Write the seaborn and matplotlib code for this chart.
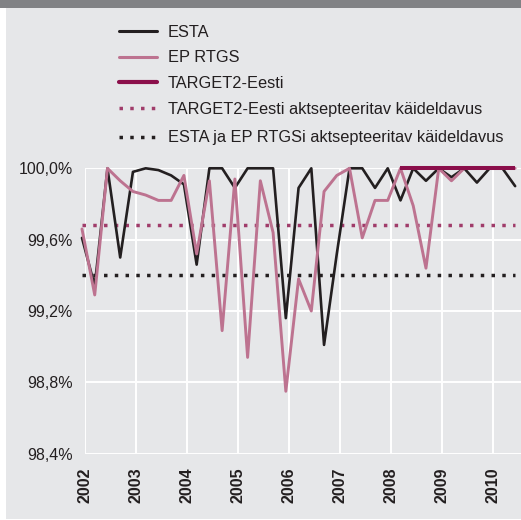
import numpy as np
import pandas as pd
import matplotlib
matplotlib.use("Agg")
import matplotlib.pyplot as plt
import seaborn as sns
from matplotlib.patches import Rectangle
from matplotlib.lines import Line2D

# ---------------- data ----------------
years = [2002, 2003, 2004, 2005, 2006, 2007, 2008, 2009, 2010]
quarter_index = list(range(35))  # quarterly observations 2002 .. 2010
esta = [99.61, 99.34, 100.0, 99.50, 99.98, 100.0, 99.99, 99.96, 99.91,
        99.46, 100.0, 100.0, 99.89, 100.0, 100.0, 100.0, 99.16, 99.89,
        100.0, 99.01, 99.52, 100.0, 100.0, 99.89, 100.0, 99.82, 100.0,
        99.93, 100.0, 99.95, 100.0, 99.92, 100.0, 100.0, 99.90]
ep_rtgs = [99.66, 99.29, 100.0, 99.93, 99.87, 99.85, 99.82, 99.82, 99.96,
           99.52, 99.93, 99.09, 99.94, 98.94, 99.93, 99.64, 98.75, 99.38,
           99.20, 99.87, 99.96, 100.0, 99.61, 99.82, 99.82, 100.0, 99.79,
           99.44, 100.0, 99.93, 100.0, 100.0, 100.0, 100.0, 100.0]
target2 = [np.nan] * 25 + [100.0] * 10
t2_required = 99.68
esta_required = 99.40
yticks = [98.4, 98.8, 99.2, 99.6, 100.0]
ytick_labels = ["98,4%", "98,8%", "99,2%", "99,6%", "100,0%"]
labels = ["ESTA", "EP RTGS", "TARGET2-Eesti",
          "TARGET2-Eesti aktsepteeritav käideldavus",
          "ESTA ja EP RTGSi aktsepteeritav käideldavus"]

df = pd.DataFrame({"q": quarter_index, "esta": esta, "ep": ep_rtgs,
                   "t2": target2,
                   "t2req": [t2_required] * len(quarter_index),
                   "esreq": [esta_required] * len(quarter_index)})

# ---------------- style ----------------
BG = "#e6e7e9"
BAND = "#818285"
C_ESTA = "#231f20"
C_EP = "#bd7390"
C_T2 = "#8b0f4b"
C_T2REQ = "#a03c6a"
C_ESREQ = "#231f20"

sns.set_theme(style="white")
plt.rcParams['font.family'] = ['Liberation Sans', 'DejaVu Sans']

W, H = 521, 520
fig = plt.figure(figsize=(W / 100, H / 100), dpi=100)
fig.patch.set_facecolor("white")
fig.patches.append(Rectangle((6 / W, 1 / H), 1, 1, transform=fig.transFigure,
                             facecolor=BG, edgecolor="none", zorder=-10))
fig.patches.append(Rectangle((0, 1 - 8 / H), 1, 8 / H, transform=fig.transFigure,
                             facecolor=BAND, edgecolor="none", zorder=-9))

ax_l, ax_r, ax_t, ax_b = 85.3, 521, 168.3, 453.7
ax = fig.add_axes([ax_l / W, 1 - ax_b / H, (ax_r - ax_l) / W, (ax_b - ax_t) / H])
ax.set_facecolor(BG)

dot = dict(dashes=(1, 2.1), dash_capstyle="butt")
sns.lineplot(data=df, x="q", y="t2req", ax=ax, color=C_T2REQ, lw=2.5,
             clip_on=False, zorder=3, **dot)
sns.lineplot(data=df, x="q", y="esreq", ax=ax, color=C_ESREQ, lw=2.5,
             clip_on=False, zorder=3, **dot)
sns.lineplot(data=df, x="q", y="esta", ax=ax, color=C_ESTA, lw=1.9,
             clip_on=False, zorder=4)
sns.lineplot(data=df, x="q", y="ep", ax=ax, color=C_EP, lw=2.1,
             clip_on=False, zorder=5)
sns.lineplot(data=df, x="q", y="t2", ax=ax, color=C_T2, lw=2.9,
             clip_on=False, zorder=6, solid_capstyle="butt")

year_pos = [0.26 + 4 * k for k in range(len(years))]
ax.set_xlim(0.26, 0.26 + (ax_r - ax_l) / 12.74)
ax.set_ylim(98.4, 100.0)
ax.set_xticks(year_pos)
ax.set_xticklabels([str(y) for y in years], rotation=90, fontweight="bold",
                   fontsize=11.5, color="#231f20")
ax.set_yticks(yticks)
ax.set_yticklabels(ytick_labels, fontsize=11.5, color="#231f20")
ax.tick_params(axis="x", length=0, pad=10)
ax.tick_params(axis="y", length=0, pad=9)
ax.grid(True, color="white", lw=1.4)
ax.set_axisbelow(True)
for s in ax.spines.values():
    s.set_visible(False)
ax.set_xlabel("")
ax.set_ylabel("")

# ---------------- legend ----------------
h1 = [Line2D([], [], color=C_ESTA, lw=2.2),
      Line2D([], [], color=C_EP, lw=2.2),
      Line2D([], [], color=C_T2, lw=3.0)]
h2 = [Line2D([], [], color=C_T2REQ, lw=2.5, **dot),
      Line2D([], [], color=C_ESREQ, lw=2.5, **dot)]
common = dict(frameon=False, loc="upper left", borderpad=0, borderaxespad=0,
              handlelength=2.35, handletextpad=0.65, fontsize=11.75)
leg1 = fig.legend(h1, labels[:3], bbox_to_anchor=(119 / W, 1 - 25 / H),
                  labelspacing=0.64, **common)
leg2 = fig.legend(h2, labels[3:], bbox_to_anchor=(119 / W, 1 - 102 / H),
                  labelspacing=0.82, **common)
for lg in (leg1, leg2):
    for t in lg.get_texts():
        t.set_color("#231f20")

fig.savefig("out.png", dpi=100, facecolor=fig.get_facecolor())
